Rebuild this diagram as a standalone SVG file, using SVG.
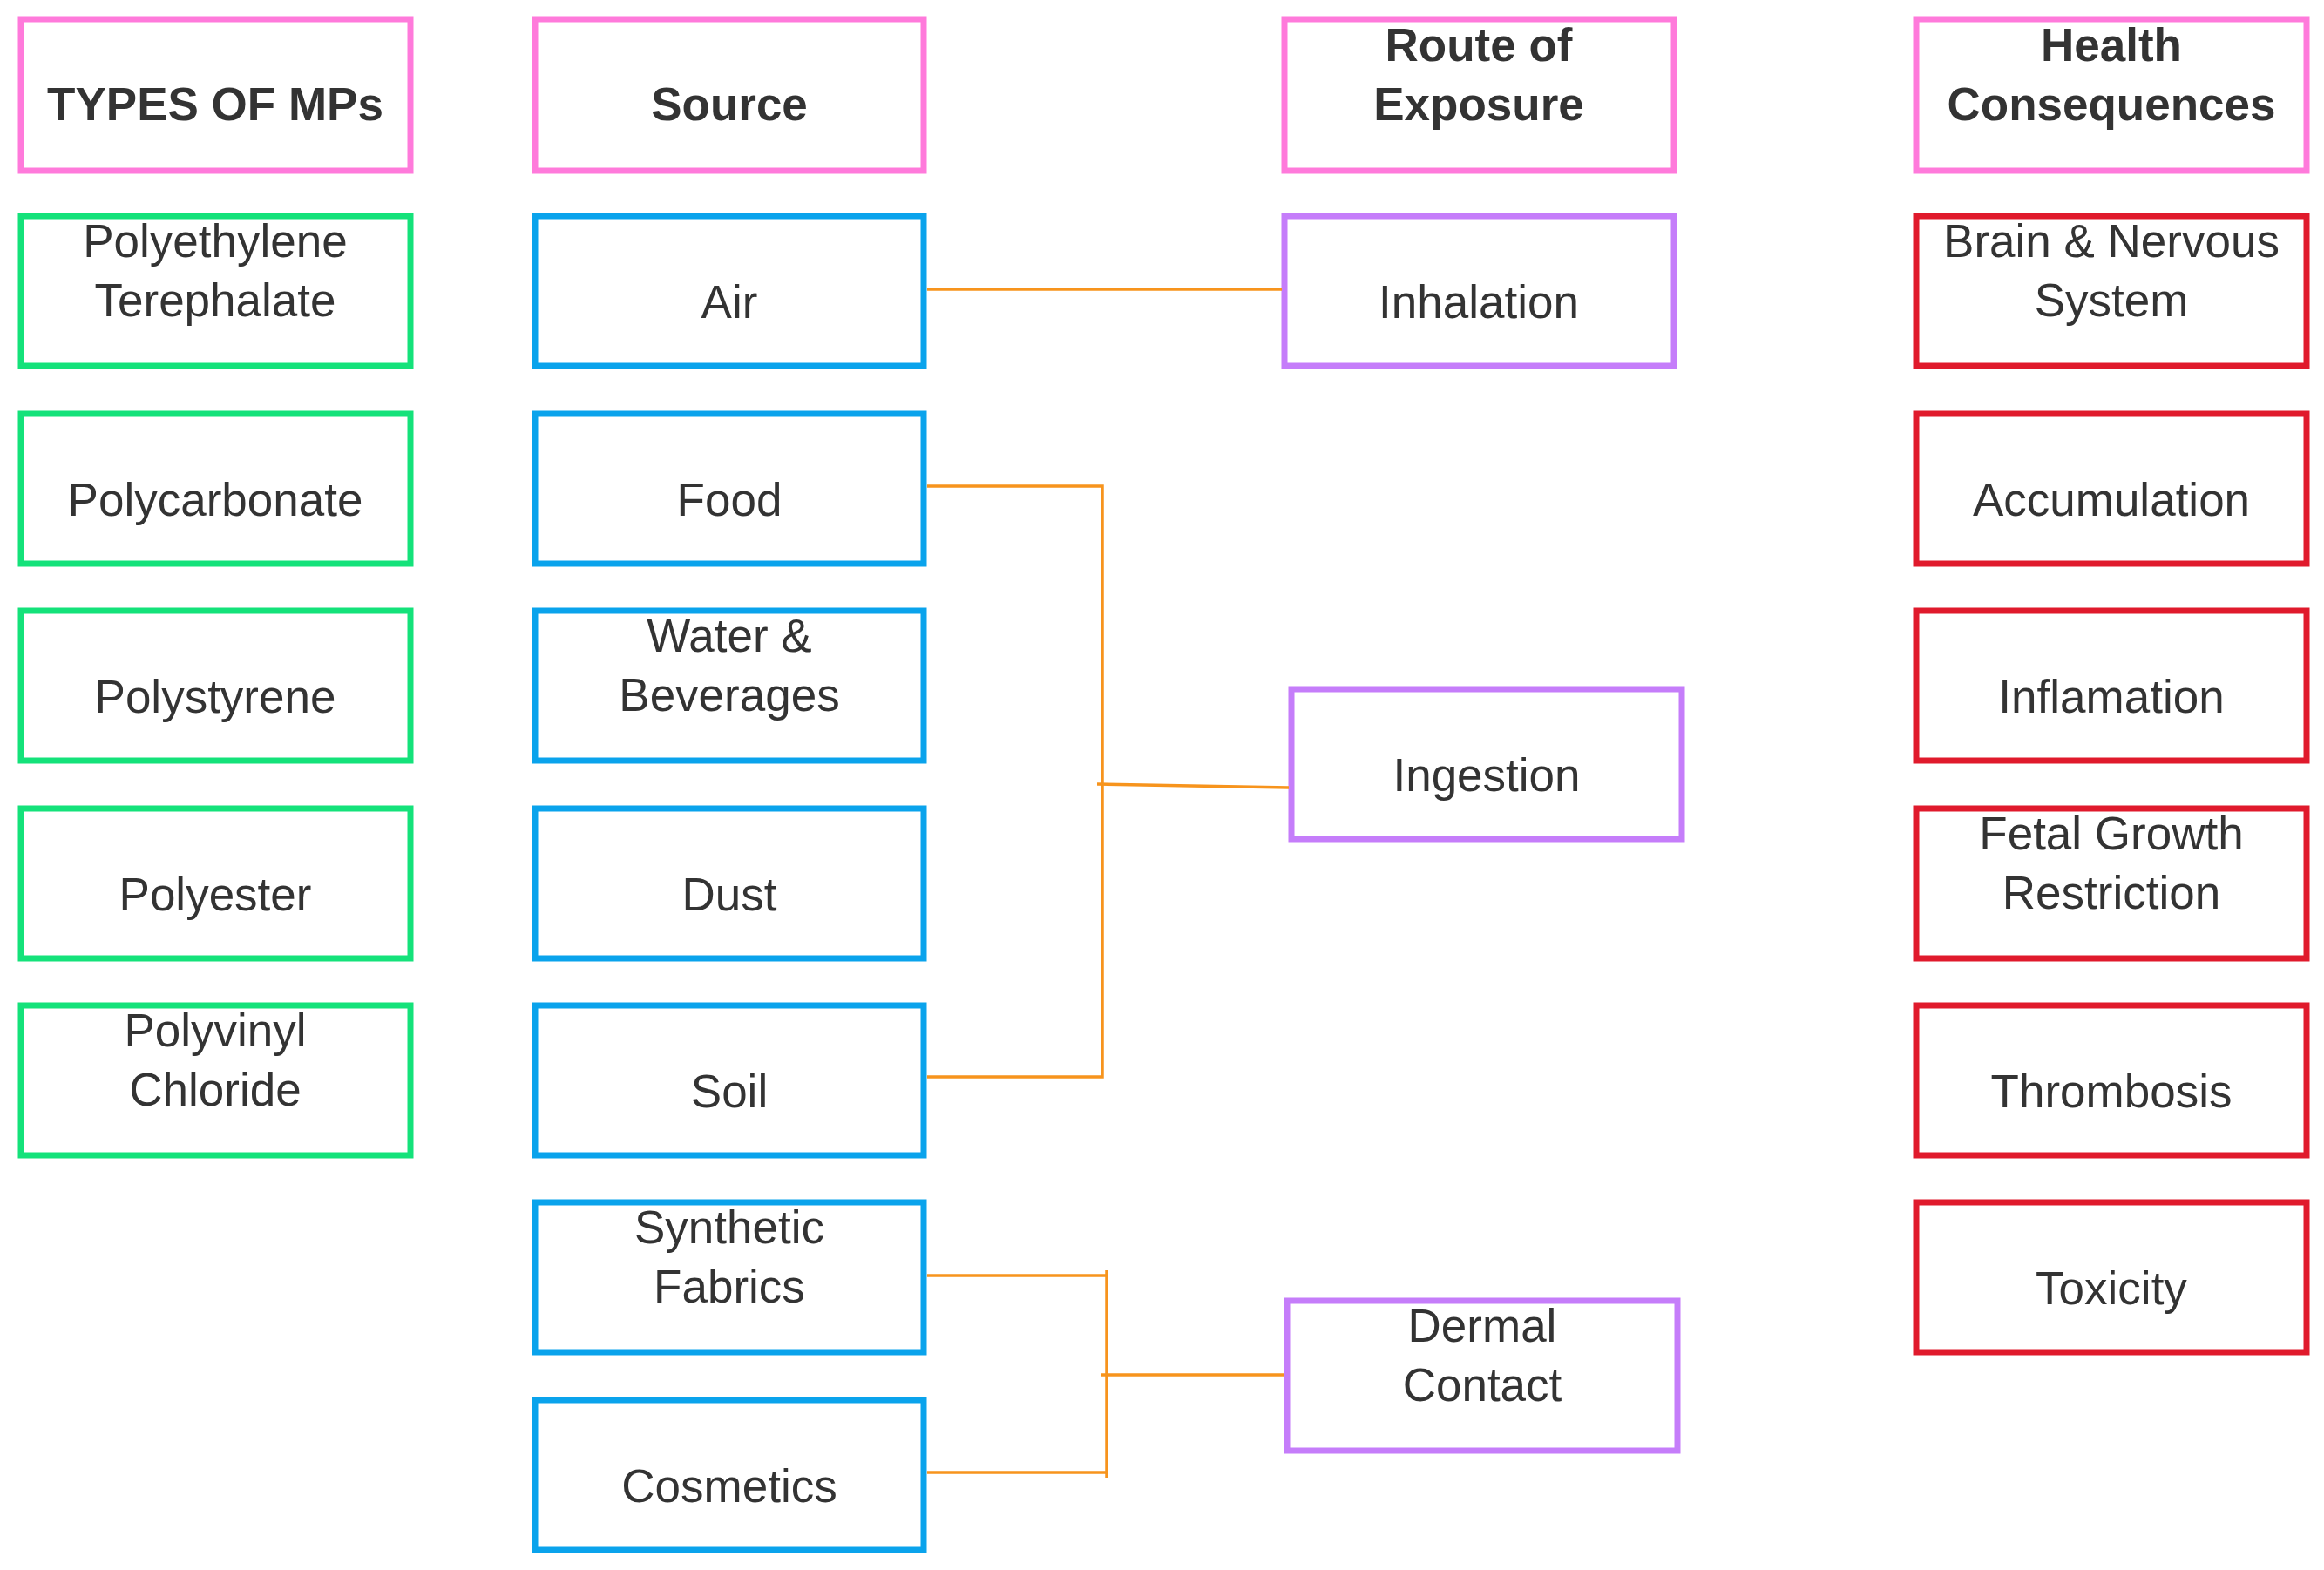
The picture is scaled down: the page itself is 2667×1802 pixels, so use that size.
<svg xmlns="http://www.w3.org/2000/svg" width="2667" height="1802" viewBox="0 0 2667 1802">
<style>
rect{fill:#fff;stroke-width:7}
.h{stroke:#FF7ADB}.g{stroke:#14E27A}.b{stroke:#0AA3EC}.p{stroke:#C57DFA}.r{stroke:#E01A2C}
text{font-family:"Liberation Sans",Arial,sans-serif;font-size:53px;fill:#333;text-anchor:middle}
.t{font-weight:bold}
.c{stroke:#F7941D;stroke-width:3.5;fill:none}
</style>
<rect width="2667" height="1802" style="stroke:none"/>
<g id="h1"><rect class="h" x="24" y="22" width="447" height="174"/><text class="t" x="247" y="138">TYPES OF MPs</text></g>
<g id="h2"><rect class="h" x="614" y="22" width="446" height="174"/><text class="t" x="837" y="138">Source</text></g>
<g id="h3"><rect class="h" x="1474" y="22" width="447" height="174"/><text class="t" x="1697" y="70">Route of</text><text class="t" x="1697" y="138">Exposure</text></g>
<g id="h4"><rect class="h" x="2199" y="22" width="448" height="174"/><text class="t" x="2423" y="70">Health</text><text class="t" x="2423" y="138">Consequences</text></g>

<g id="t1"><rect class="g" x="24" y="248" width="447" height="172"/><text x="247" y="295">Polyethylene</text><text x="247" y="363">Terephalate</text></g>
<g id="t2"><rect class="g" x="24" y="475" width="447" height="172"/><text x="247" y="592">Polycarbonate</text></g>
<g id="t3"><rect class="g" x="24" y="701" width="447" height="172"/><text x="247" y="818">Polystyrene</text></g>
<g id="t4"><rect class="g" x="24" y="928" width="447" height="172"/><text x="247" y="1045">Polyester</text></g>
<g id="t5"><rect class="g" x="24" y="1154" width="447" height="172"/><text x="247" y="1201">Polyvinyl</text><text x="247" y="1269">Chloride</text></g>

<g id="s1"><rect class="b" x="614" y="248" width="446" height="172"/><text x="837" y="365">Air</text></g>
<g id="s2"><rect class="b" x="614" y="475" width="446" height="172"/><text x="837" y="592">Food</text></g>
<g id="s3"><rect class="b" x="614" y="701" width="446" height="172"/><text x="837" y="748">Water &amp;</text><text x="837" y="816">Beverages</text></g>
<g id="s4"><rect class="b" x="614" y="928" width="446" height="172"/><text x="837" y="1045">Dust</text></g>
<g id="s5"><rect class="b" x="614" y="1154" width="446" height="172"/><text x="837" y="1271">Soil</text></g>
<g id="s6"><rect class="b" x="614" y="1380" width="446" height="172"/><text x="837" y="1427">Synthetic</text><text x="837" y="1495">Fabrics</text></g>
<g id="s7"><rect class="b" x="614" y="1607" width="446" height="172"/><text x="837" y="1724">Cosmetics</text></g>

<g id="e1"><rect class="p" x="1474" y="248" width="447" height="172"/><text x="1697" y="365">Inhalation</text></g>
<g id="e2"><rect class="p" x="1482" y="791" width="448" height="172"/><text x="1706" y="908">Ingestion</text></g>
<g id="e3"><rect class="p" x="1477" y="1493" width="448" height="172"/><text x="1701" y="1540">Dermal</text><text x="1701" y="1608">Contact</text></g>

<g id="c1"><rect class="r" x="2199" y="248" width="448" height="172"/><text x="2423" y="295">Brain &amp; Nervous</text><text x="2423" y="363">System</text></g>
<g id="c2"><rect class="r" x="2199" y="475" width="448" height="172"/><text x="2423" y="592">Accumulation</text></g>
<g id="c3"><rect class="r" x="2199" y="701" width="448" height="172"/><text x="2423" y="818">Inflamation</text></g>
<g id="c4"><rect class="r" x="2199" y="928" width="448" height="172"/><text x="2423" y="975">Fetal Growth</text><text x="2423" y="1043">Restriction</text></g>
<g id="c5"><rect class="r" x="2199" y="1154" width="448" height="172"/><text x="2423" y="1271">Thrombosis</text></g>
<g id="c6"><rect class="r" x="2199" y="1380" width="448" height="172"/><text x="2423" y="1497">Toxicity</text></g>

<g id="connectors">
<path class="c" d="M1064 332H1471"/>
<path class="c" d="M1064 558H1265V1236H1064"/>
<path class="c" d="M1259 900L1479 904"/>
<path class="c" d="M1064 1464H1270M1064 1690H1270M1270 1458V1696M1263 1578H1474"/>
</g>
</svg>
